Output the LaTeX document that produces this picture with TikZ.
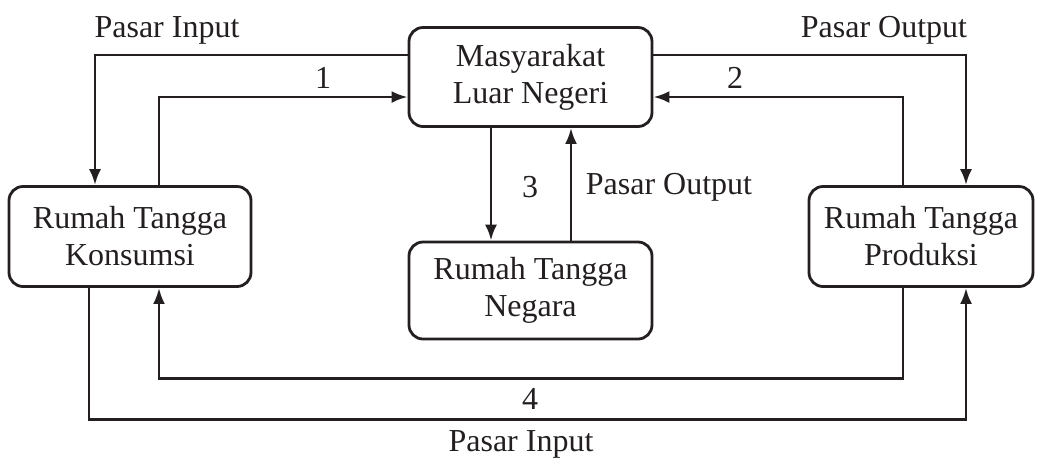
\documentclass[tikz,border=0pt]{standalone}
\usepackage{fontspec}
\setmainfont{Liberation Serif}
\usepackage{tikz}
\usetikzlibrary{positioning,calc,arrows.meta}
\definecolor{ink}{RGB}{35,31,32}

\begin{document}
\begin{tikzpicture}[
            x=0.5pt, y=-0.5pt,
            every node/.style={font=\fontsize{16pt}{18.5pt}\selectfont, text=ink},
            box/.style={draw=ink, line width=1.4pt, rounded corners=7pt, align=center, inner sep=0pt},
            flow/.style={draw=ink, -{Latex[length=8pt,width=6pt]}, line width=1.4pt}
        ]
            \useasboundingbox (0,0) rectangle (1041,463);
            
            % Boxes
            \node[box, minimum width=121.5pt, minimum height=49.5pt] (luar) at (530.5,77) {Masyarakat\\Luar Negeri};
            \node[box, minimum width=121pt, minimum height=50pt] (konsumsi) at (130,236.5) {Rumah Tangga\\Konsumsi};
            \node[box, minimum width=112pt, minimum height=50pt] (produksi) at (921,236.5) {Rumah Tangga\\Produksi};
            \node[box, minimum width=121.5pt, minimum height=48.5pt] (negara) at (530.5,290.5) {Rumah Tangga\\Negara};
            
            % Top left loop
            \draw[flow] ($(luar.west)+(0,-22)$) -| ($(konsumsi.north)+(-35,0)$);
            \draw[flow] ($(konsumsi.north)+(29,0)$) |- ($(luar.west)+(0,20)$);
            
            % Top right loop
            \draw[flow] ($(luar.east)+(0,-22)$) -| ($(produksi.north)+(45,0)$);
            \draw[flow] ($(produksi.north)+(-18,0)$) |- ($(luar.east)+(0,20)$);
            
            % Middle
            \draw[flow] ($(luar.south)+(-39.5,0)$) -- ($(negara.north)+(-39.5,0)$);
            \draw[flow] ($(negara.north)+(40.5,0)$) -- ($(luar.south)+(40.5,0)$);
            
            % Bottom loop
            \draw[flow] ($(produksi.south)+(-18,0)$) -- ++(0,90.5) -| ($(konsumsi.south)+(29,0)$);
            \draw[flow] ($(konsumsi.south)+(-41,0)$) -- ++(0,131.5) -| ($(produksi.south)+(45,0)$);
            
            % Labels
            \node (inputtop) at (167,30) {Pasar Input};
            \node (outputtop) at (884,30) {Pasar Output};
            \node (one) at (323,78) {1};
            \node (two) at (735,78) {2};
            \node (three) at (530,187) {3};
            \node (outputmid) at (669,187) {Pasar Output};
            \node (four) at (530,399) {4};
            \node (inputbot) at (521,444) {Pasar Input};
        \end{tikzpicture}
\end{document}
